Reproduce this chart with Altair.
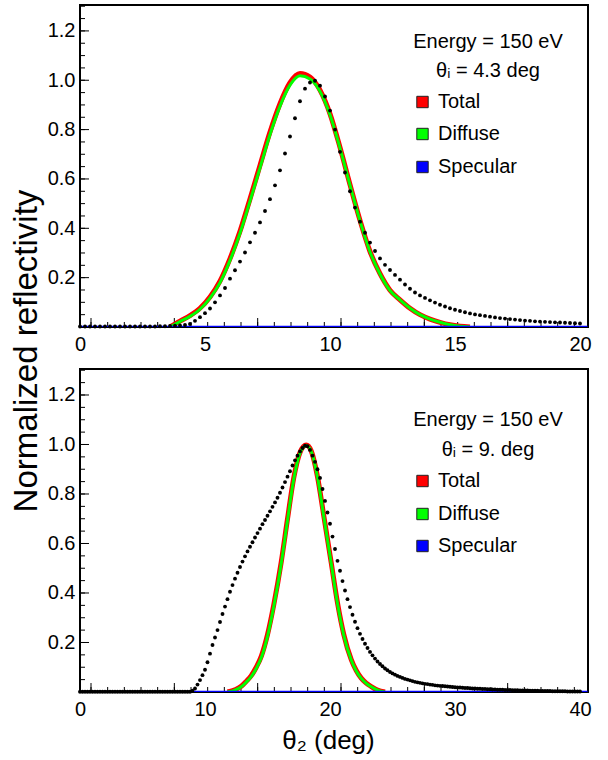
import altair as alt
import pandas as pd

FONT = "Liberation Sans"

# ---------------- data ----------------
DOT_STEP = 0.2  # angular sampling of the measured points (deg)

# measured reflectivity, top panel (theta_i = 4.3 deg), x = 0 .. 20 step 0.2
TOP_DOTS_Y = [
    0.002, 0.002, 0.002, 0.002, 0.002, 0.002, 0.002, 0.002, 0.002, 0.002,
    0.002, 0.002, 0.002, 0.002, 0.002, 0.002,
    0.003, 0.003, 0.004, 0.005, 0.006, 0.008, 0.012, 0.025, 0.040, 0.056,
    0.075, 0.100, 0.128, 0.158, 0.196, 0.230, 0.265, 0.302, 0.343, 0.382,
    0.424, 0.470, 0.518, 0.574, 0.635, 0.703, 0.772, 0.846, 0.915, 0.966,
    0.991, 0.998, 0.978, 0.934, 0.877, 0.800, 0.710, 0.626, 0.550, 0.484,
    0.427, 0.382, 0.342, 0.308, 0.278, 0.252, 0.231, 0.211, 0.192, 0.172,
    0.155, 0.140, 0.128, 0.118, 0.108, 0.099, 0.090, 0.083, 0.076, 0.070,
    0.065, 0.060, 0.055, 0.051, 0.048, 0.045, 0.042, 0.039, 0.036, 0.034,
    0.032, 0.030, 0.028, 0.026, 0.025, 0.023, 0.022, 0.021, 0.020, 0.019,
    0.018, 0.017, 0.016, 0.015, 0.014,
]

# measured reflectivity, bottom panel (theta_i = 9 deg), x = 0 .. 40 step 0.2
BOT_DOTS_Y = [
    0.001, 0.001, 0.001, 0.001, 0.001, 0.001, 0.001, 0.001, 0.001, 0.001,
    0.001, 0.001, 0.001, 0.001, 0.001, 0.001, 0.001, 0.001, 0.001, 0.001,
    0.001, 0.001, 0.001, 0.001, 0.001, 0.001, 0.001, 0.001, 0.001, 0.001,
    0.001, 0.001, 0.001, 0.001, 0.001, 0.001, 0.001, 0.001, 0.001, 0.001,
    0.001, 0.001, 0.001, 0.001, 0.001,
    0.005, 0.014, 0.030, 0.048, 0.068, 0.090, 0.120, 0.155, 0.190, 0.220,
    0.250, 0.283, 0.315, 0.345, 0.375, 0.405, 0.432, 0.458, 0.482, 0.505,
    0.527, 0.548, 0.568, 0.587, 0.605, 0.624, 0.642, 0.660, 0.678, 0.695,
    0.712, 0.730, 0.748, 0.766, 0.785, 0.805, 0.826, 0.848, 0.870, 0.892,
    0.915, 0.936, 0.955, 0.972, 0.986, 0.995, 0.993, 0.978, 0.955, 0.930,
    0.900, 0.865, 0.820, 0.772, 0.725, 0.680, 0.628, 0.578, 0.530, 0.490,
    0.448, 0.410, 0.375, 0.343, 0.312, 0.284, 0.258, 0.235, 0.214, 0.195,
    0.178, 0.162, 0.148, 0.135, 0.123, 0.113, 0.104, 0.095, 0.088, 0.081,
    0.075, 0.070, 0.065, 0.061, 0.057, 0.053, 0.050, 0.047, 0.044, 0.041,
    0.039, 0.037, 0.035, 0.033, 0.032, 0.030, 0.029, 0.027, 0.026, 0.025,
    0.024, 0.023, 0.022, 0.021, 0.020, 0.019,
    0.018, 0.018, 0.017, 0.016, 0.016, 0.015, 0.014, 0.014, 0.013,
    0.013, 0.012, 0.012, 0.011, 0.011, 0.010, 0.010, 0.009, 0.009, 0.009,
    0.008, 0.008, 0.008, 0.007, 0.007, 0.007, 0.006, 0.006, 0.006, 0.006,
    0.005, 0.005, 0.005, 0.005, 0.004, 0.004, 0.004, 0.004, 0.004, 0.003,
    0.003, 0.003, 0.003, 0.003, 0.003, 0.002, 0.002, 0.002, 0.002, 0.002, 0.002,
]

# simulated curves, top panel
TOP_CURVE_X = [3.6, 4.0, 4.4, 4.8, 5.2, 5.6, 6.0, 6.4, 6.8, 7.2, 7.6, 8.0, 8.4,
               8.8, 9.2, 9.6, 10.0, 10.4, 10.8, 11.2, 11.6, 12.0, 12.4, 12.8,
               13.2, 13.6, 14.0, 14.4, 14.8, 15.2, 15.6]
TOP_TOTAL = [0.0, 0.024, 0.046, 0.076, 0.122, 0.186, 0.277, 0.388, 0.519, 0.655,
             0.790, 0.905, 0.990, 1.027, 1.013, 0.960, 0.864, 0.728, 0.577,
             0.432, 0.306, 0.216, 0.149, 0.110, 0.076, 0.050, 0.032, 0.019,
             0.009, 0.003, 0.0]
TOP_DIFFUSE = [0.0, 0.022, 0.043, 0.072, 0.117, 0.180, 0.270, 0.380, 0.510,
               0.645, 0.780, 0.895, 0.980, 1.018, 1.005, 0.955, 0.860, 0.725,
               0.575, 0.430, 0.305, 0.215, 0.148, 0.110, 0.076, 0.050, 0.032,
               0.019, 0.009, 0.003, 0.0]
TOP_SPEC_X = [0.0, 20.3]
TOP_SPEC_Y = [0.0, 0.0]

# simulated curves, bottom panel
BOT_CURVE_X = [11.8, 12.4, 12.9, 13.3, 13.7, 14.1, 14.5, 15.0, 15.5, 16.1, 16.6,
               17.1, 17.6, 18.1, 18.5, 19.0, 19.5, 20.1, 20.6, 21.1, 21.7, 22.1,
               22.5, 22.9, 23.3, 23.8, 24.4]
BOT_TOTAL = [0.0, 0.009, 0.023, 0.043, 0.066, 0.100, 0.144, 0.232, 0.352, 0.526,
             0.699, 0.865, 0.968, 0.998, 0.974, 0.870, 0.713, 0.522, 0.360,
             0.233, 0.131, 0.087, 0.056, 0.036, 0.022, 0.008, 0.0]
BOT_DIFFUSE = [0.0, 0.008, 0.021, 0.040, 0.062, 0.095, 0.138, 0.225, 0.345,
               0.519, 0.693, 0.860, 0.965, 0.996, 0.972, 0.868, 0.710, 0.519,
               0.357, 0.230, 0.129, 0.085, 0.055, 0.035, 0.021, 0.008, 0.0]
BOT_SPEC_X = [9.0, 40.6]
BOT_SPEC_Y = [0.0, 0.0]

LEGEND_LABELS = ["Total", "Diffuse", "Specular"]
LEGEND_COLORS = ["#ff0000", "#00ff00", "#0000ff"]
TOP_HEADER = ["Energy = 150 eV", "θᵢ = 4.3 deg"]
BOT_HEADER = ["Energy = 150 eV", "θᵢ = 9. deg"]
TOP_XLABELS = [0, 5, 10, 15, 20]
BOT_XLABELS = [0, 10, 20, 30, 40]
Y_LABELS = [0.2, 0.4, 0.6, 0.8, 1.0, 1.2]
X_TITLE = "θ₂ (deg)"
Y_TITLE = "Normalized reflectivity"

# ---------------- layout / style constants ----------------
W = 508
YMAX = 1.305
BIG, SMALL = 9, 5


def panel(xmax, H, dots_y, cx, tot, dif, sx, sy, xlabels, tick0, tickstep,
          header, head_y, leg_y, xtitle):
    xs = alt.Scale(domain=[0, xmax], nice=False, zero=False)
    ys = alt.Scale(domain=[0, YMAX], nice=False, zero=False)

    # axis tick positions (inward ticks, drawn as short rules through the scales)
    minor_x = []
    k = 0
    while tick0 + k * tickstep <= xmax:
        minor_x.append(round(tick0 + k * tickstep, 3))
        k += 1
    major_x = minor_x[::5]
    minor_y = [round(0.05 * k, 2) for k in range(1, 27)]

    curve = pd.DataFrame({"x": cx, "total": tot, "diffuse": dif})
    spec = pd.DataFrame({"x": sx, "y": sy})
    dots = pd.DataFrame({"x": [round(DOT_STEP * i, 1) for i in range(len(dots_y))],
                         "y": dots_y})

    # identical axis definitions on every layer, so that they merge cleanly
    xaxis_kw = dict(orient="bottom", values=xlabels, format="d", ticks=False,
                    domain=False, grid=False, labelPadding=7, labelFlush=False)
    if xtitle:
        xaxis_kw.update(title=xtitle, titleX=248, titlePadding=8)
    else:
        xaxis_kw.update(title=None)
    XA = alt.Axis(**xaxis_kw)
    YA = alt.Axis(orient="left", values=Y_LABELS, format=".1f", ticks=False,
                  domain=False, grid=False, labelPadding=5, labelFlush=False,
                  title=None)

    def xticks(vals, size):
        return alt.Chart(pd.DataFrame({"t": vals})).mark_rule(
            color="black", strokeWidth=1
        ).encode(x=alt.X("t:Q", scale=xs, axis=XA),
                 y=alt.value(H), y2=alt.value(H - size))

    def yticks(vals, size):
        return alt.Chart(pd.DataFrame({"t": vals})).mark_rule(
            color="black", strokeWidth=1
        ).encode(y=alt.Y("t:Q", scale=ys, axis=YA),
                 x=alt.value(0), x2=alt.value(size))

    total = alt.Chart(curve).mark_line(
        color=LEGEND_COLORS[0], strokeWidth=5, interpolate="monotone", clip=True
    ).encode(
        x=alt.X("x:Q", scale=xs, axis=XA),
        y=alt.Y("total:Q", scale=ys, axis=YA),
    )
    diffuse = alt.Chart(curve).mark_line(
        color=LEGEND_COLORS[1], strokeWidth=3, interpolate="monotone", clip=True
    ).encode(
        x=alt.X("x:Q", scale=xs, axis=XA),
        y=alt.Y("diffuse:Q", scale=ys, axis=YA),
    )
    specular = alt.Chart(spec).mark_line(
        color=LEGEND_COLORS[2], strokeWidth=2.5, clip=True
    ).encode(
        x=alt.X("x:Q", scale=xs, axis=XA),
        y=alt.Y("y:Q", scale=ys, axis=YA),
    )
    points = alt.Chart(dots).mark_circle(size=15, color="black", opacity=1).encode(
        x=alt.X("x:Q", scale=xs, axis=XA),
        y=alt.Y("y:Q", scale=ys, axis=YA),
    )

    layers = [xticks(minor_x, SMALL), xticks(major_x, BIG),
              yticks(minor_y, SMALL), yticks(Y_LABELS, BIG),
              total, diffuse, specular, points]
    for txt, yy in zip(header, head_y):
        layers.append(
            alt.Chart(pd.DataFrame({"t": [txt]})).mark_text(
                font=FONT, fontSize=20, align="center", baseline="middle",
                color="black"
            ).encode(x=alt.value(408), y=alt.value(yy), text="t:N")
        )
    for lab, col, yy in zip(LEGEND_LABELS, LEGEND_COLORS, leg_y):
        layers.append(
            alt.Chart(pd.DataFrame({"label": [lab]})).mark_square(
                size=130, filled=True, fill=col, stroke="#222222",
                strokeWidth=1, opacity=1
            ).encode(x=alt.value(342.5), y=alt.value(yy))
        )
        layers.append(
            alt.Chart(pd.DataFrame({"label": [lab]})).mark_text(
                font=FONT, fontSize=20, align="left", baseline="middle",
                color="black"
            ).encode(x=alt.value(358), y=alt.value(yy), text="label:N")
        )
    return alt.layer(*layers).properties(width=W, height=H)


top = panel(20.32, 322, TOP_DOTS_Y, TOP_CURVE_X, TOP_TOTAL, TOP_DIFFUSE,
            TOP_SPEC_X, TOP_SPEC_Y, TOP_XLABELS, 0.44, 2.0 / 3.0,
            TOP_HEADER, [37, 66], [97, 129, 162], None)
bot = panel(40.64, 323, BOT_DOTS_Y, BOT_CURVE_X, BOT_TOTAL, BOT_DIFFUSE,
            BOT_SPEC_X, BOT_SPEC_Y, BOT_XLABELS, 0.88, 4.0 / 3.0,
            BOT_HEADER, [51, 81], [112, 145, 177], X_TITLE)

chart = alt.vconcat(top, bot, spacing=42, bounds="flush").properties(
    title=alt.TitleParams(Y_TITLE, orient="left", anchor="middle", font=FONT,
                          fontSize=33, fontWeight="normal", color="black",
                          offset=2, dx=28),
    padding={"left": 11, "top": 4, "right": 10, "bottom": 5},
).configure_view(
    stroke="black", strokeWidth=2
).configure_axis(
    labelFont=FONT, labelFontSize=20, labelColor="black",
    titleFont=FONT, titleFontSize=26, titleFontWeight="normal", titleColor="black",
    grid=False,
)

chart.save("out.html", embed_options={"renderer": "svg", "actions": False})
